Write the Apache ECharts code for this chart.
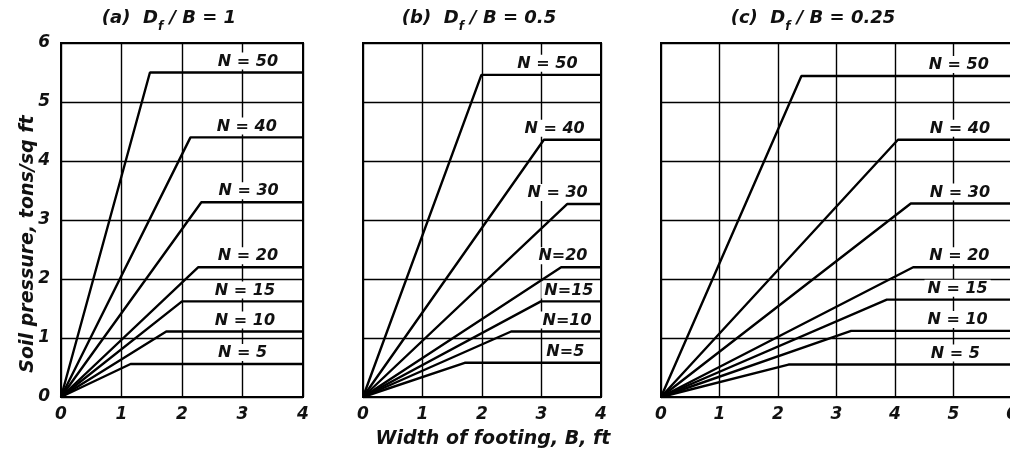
<!DOCTYPE html>
<html><head><meta charset="utf-8">
<script src="https://cdn.jsdelivr.net/npm/echarts@6/dist/echarts.min.js"></script>
<style>html,body{margin:0;padding:0;background:#fff}#c{width:1010px;height:453px}</style>
</head><body><div id="c"></div>
<script>
// ---- data ----
const nValues = [50, 40, 30, 20, 15, 10, 5];
const panelTags = ['(a)', '(b)', '(c)'];
const ratioTexts = ['1', '0.5', '0.25'];
const xTicksA = [0, 1, 2, 3, 4];
const xTicksB = [0, 1, 2, 3, 4];
const xTicksC = [0, 1, 2, 3, 4, 5, 6];
const yTicks = [0, 1, 2, 3, 4, 5, 6];
// break point (end of rising line) and plateau pressure, tons/sq ft
const breakXA = [1.47, 2.14, 2.32, 2.27, 2.00, 1.74, 1.15];
const plateauA = [5.50, 4.40, 3.30, 2.20, 1.62, 1.11, 0.56];
const breakXB = [1.99, 3.04, 3.43, 3.33, 2.99, 2.49, 1.71];
const plateauB = [5.46, 4.36, 3.27, 2.20, 1.62, 1.11, 0.58];
const breakXC = [2.40, 4.05, 4.27, 4.31, 3.86, 3.25, 2.18];
const plateauC = [5.44, 4.36, 3.28, 2.20, 1.65, 1.12, 0.55];
// where the "N = .." labels sit (x in ft)
const labelXA = [3.09, 3.07, 3.10, 3.09, 3.04, 3.04, 3.00];
const labelXB = [3.10, 3.22, 3.27, 3.36, 3.46, 3.43, 3.40];
const labelXC = [5.09, 5.11, 5.11, 5.10, 5.07, 5.07, 5.03];
const labelTextsA = ['N = 50', 'N = 40', 'N = 30', 'N = 20', 'N = 15', 'N = 10', 'N = 5'];
const labelTextsB = ['N = 50', 'N = 40', 'N = 30', 'N=20', 'N=15', 'N=10', 'N=5'];
const labelTextsC = ['N = 50', 'N = 40', 'N = 30', 'N = 20', 'N = 15', 'N = 10', 'N = 5'];

// ---- layout ----
const FONT = 'DejaVu Sans';
const INK = '#111';
const panels = [
  {ticks: xTicksA, bx: breakXA, py: plateauA, lx: labelXA, lt: labelTextsA, grid: {left: 61, top: 43, width: 242, height: 354}, yLabels: true, titleX: 164},
  {ticks: xTicksB, bx: breakXB, py: plateauB, lx: labelXB, lt: labelTextsB, grid: {left: 363, top: 43, width: 238, height: 354}, yLabels: false, titleX: 474},
  {ticks: xTicksC, bx: breakXC, py: plateauC, lx: labelXC, lt: labelTextsC, grid: {left: 661, top: 43, width: 351, height: 354}, yLabels: false, titleX: 808}
];

const grids = [], xAxes = [], yAxes = [], series = [], titles = [];
panels.forEach((p, i) => {
  grids.push(Object.assign({show: true, borderColor: '#000', borderWidth: 2, backgroundColor: 'transparent',
    containLabel: false, outerBoundsMode: 'none'}, p.grid));
  const xmax = p.ticks[p.ticks.length - 1];
  xAxes.push({
    gridIndex: i, type: 'value', min: p.ticks[0], max: xmax, interval: 1,
    axisLine: {show: false}, axisTick: {show: false},
    splitLine: {show: true, lineStyle: {color: '#000', width: 1.4}},
    axisLabel: {show: true, margin: 9, color: INK, fontFamily: FONT, fontStyle: 'italic', fontWeight: 'bold', fontSize: 17,
      hideOverlap: false, showMinLabel: true, showMaxLabel: true,
      formatter: v => p.ticks.includes(v) ? String(v) : ''}
  });
  yAxes.push({
    gridIndex: i, type: 'value', min: yTicks[0], max: yTicks[yTicks.length - 1], interval: 1,
    axisLine: {show: false}, axisTick: {show: false},
    splitLine: {show: true, lineStyle: {color: '#000', width: 1.4}},
    axisLabel: {show: p.yLabels, margin: 11, color: INK, fontFamily: FONT, fontStyle: 'italic', fontWeight: 'bold', fontSize: 17}
  });
  nValues.forEach((n, k) => {
    series.push({
      type: 'line', xAxisIndex: i, yAxisIndex: i, symbol: 'none', silent: true,
      lineStyle: {color: '#000', width: 2.4},
      data: [[0, 0], [p.bx[k], p.py[k]], [xmax, p.py[k]]],
      z: 3
    });
  });
  series.push({
    type: 'scatter', xAxisIndex: i, yAxisIndex: i, symbolSize: 0, silent: true, z: 5,
    itemStyle: {opacity: 1},
    data: nValues.map((n, k) => ({value: [p.lx[k], p.py[k]], name: p.lt[k]})),
    label: {show: true, position: 'top', distance: 3, formatter: d => d.name, opacity: 1,
      color: INK, fontFamily: FONT, fontStyle: 'italic', fontWeight: 'bold', fontSize: 16,
      backgroundColor: '#fff', padding: [1, 3, 0, 3]}
  });
  titles.push({
    left: p.titleX, top: -2, textAlign: 'center',
    text: '{t|' + panelTags[i] + '  D}{s|f}{t| / B = ' + ratioTexts[i] + '}',
    textStyle: {
      rich: {
        t: {fontFamily: FONT, fontStyle: 'italic', fontWeight: 'bold', fontSize: 18, color: INK, verticalAlign: 'bottom', lineHeight: 24},
        s: {fontFamily: FONT, fontStyle: 'italic', fontWeight: 'bold', fontSize: 12, color: INK, verticalAlign: 'bottom', lineHeight: 24, padding: [0, 0, -6, 0]}
      }
    }
  });
});

const chart = echarts.init(document.getElementById('c'), null, {renderer: 'canvas'});
chart.setOption({
  animation: false,
  backgroundColor: '#fff',
  title: titles,
  grid: grids,
  xAxis: xAxes,
  yAxis: yAxes,
  series: series,
  graphic: [
    {type: 'text', x: 28, y: 244, rotation: Math.PI / 2, style: {text: 'Soil pressure, tons/sq ft', fontFamily: FONT, fontStyle: 'italic', fontWeight: 'bold', fontSize: 19, fill: INK, textAlign: 'center', textVerticalAlign: 'middle'}},
    {type: 'text', x: 493, y: 439, style: {text: 'Width of footing, B, ft', fontFamily: FONT, fontStyle: 'italic', fontWeight: 'bold', fontSize: 19, fill: INK, textAlign: 'center', textVerticalAlign: 'middle'}}
  ]
});
</script>
</body></html>
